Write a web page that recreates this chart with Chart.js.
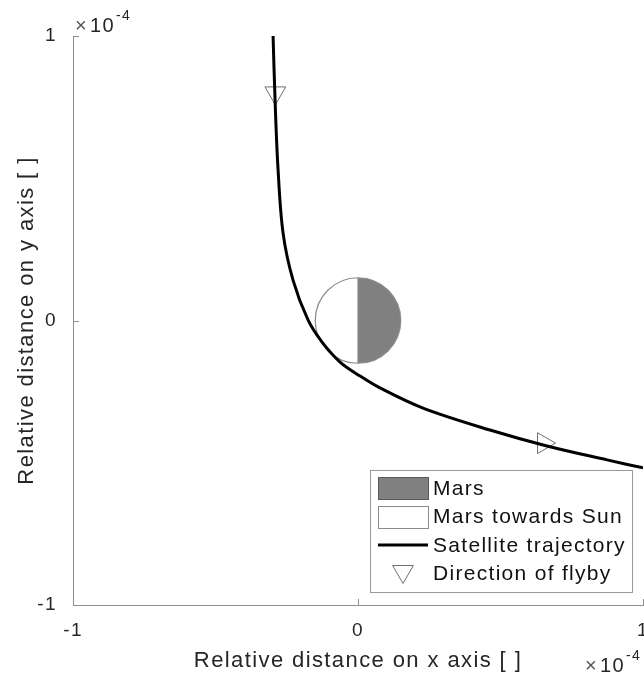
<!DOCTYPE html>
<html>
<head>
<meta charset="utf-8">
<script src="https://cdn.jsdelivr.net/npm/chart.js@4.4.1/dist/chart.umd.min.js"></script>
<style>
html,body{margin:0;padding:0;background:#fff;overflow:hidden}
#wrap{width:644px;height:679px;position:relative}
</style>
</head>
<body>
<div id="wrap"><canvas id="flyby"></canvas></div>
<script>
// hyperbolic flyby path, units of 1e-4
const trajX=[-0.298,-0.291,-0.281,-0.263,-0.228,-0.175,-0.126,-0.063,0.007,0.077,0.228,0.463,0.663,0.874,1.0];
const trajY=[1.0,0.775,0.540,0.308,0.142,0.001,-0.076,-0.146,-0.195,-0.237,-0.308,-0.385,-0.441,-0.490,-0.518];
// direction arrows along the path
const arrowX=[-0.290,0.651];
const arrowY=[0.80,-0.431];
const arrowRot=[180,90];
// planet disc
const marsCenter=[0,0];
const marsRadius=0.15;
const axisTicks=[-1,0,1];
const legendLabels=["Mars","Mars towards Sun","Satellite trajectory","Direction of flyby"];

const FONT="'Liberation Sans', Arial, Helvetica, sans-serif";
const TXT="#262626";
const AXIS="#8f8f8f";
const MARKER="#6e6e6e";
const MARS="#808080";

const drawTri=(ctx,x,y,rot)=>{
  ctx.save();
  ctx.strokeStyle=MARKER; ctx.fillStyle="rgba(0,0,0,0)"; ctx.lineWidth=1;
  Chart.helpers.drawPoint(ctx,{pointStyle:"triangle",rotation:rot,radius:12,borderWidth:1},x,y);
  ctx.restore();
};

const marsDisc={
  id:"marsDisc",
  beforeDatasetsDraw(chart){
    const {ctx,scales:{x,y}}=chart;
    const cx=x.getPixelForValue(marsCenter[0]), cy=y.getPixelForValue(marsCenter[1]);
    const r=x.getPixelForValue(marsCenter[0]+marsRadius)-cx;
    ctx.save();
    ctx.beginPath(); ctx.arc(cx,cy,r,Math.PI/2,Math.PI*1.5); ctx.closePath();
    ctx.fillStyle="#fff"; ctx.fill();
    ctx.beginPath(); ctx.arc(cx,cy,r,-Math.PI/2,Math.PI/2); ctx.closePath();
    ctx.fillStyle=MARS; ctx.fill();
    ctx.strokeStyle="#8a8a8a"; ctx.lineWidth=1.2;
    ctx.beginPath(); ctx.arc(cx,cy,r,0,Math.PI*2); ctx.stroke();
    ctx.beginPath(); ctx.moveTo(cx,cy-r); ctx.lineTo(cx,cy+r); ctx.stroke();
    ctx.restore();
  }
};

const frame={
  id:"frame",
  beforeDraw(chart){ chart.ctx.letterSpacing="1.4px"; },
  afterDraw(chart){
    const {ctx,chartArea:ca,scales:{x,y}}=chart;
    ctx.save();
    // inward tick marks
    ctx.strokeStyle=AXIS; ctx.lineWidth=1;
    ctx.beginPath();
    axisTicks.forEach(v=>{
      const px=Math.round(x.getPixelForValue(v))+0.5;
      ctx.moveTo(px,ca.bottom); ctx.lineTo(px,ca.bottom-6);
      const py=Math.round(y.getPixelForValue(v))+0.5;
      ctx.moveTo(ca.left,py); ctx.lineTo(ca.left+6,py);
    });
    ctx.stroke();

    // exponent labels
    ctx.textBaseline="alphabetic"; ctx.textAlign="left";
    const expo=(x0,base)=>{
      ctx.font="20px "+FONT; ctx.fillStyle="#555"; ctx.fillText("\u00d7",x0,base);
      ctx.fillStyle=TXT; ctx.fillText("10",x0+15,base);
      ctx.font="14px "+FONT; ctx.fillText("-4",x0+41,base-12);
    };
    expo(ca.left+2,ca.top-4);
    expo(ca.right-58,ca.bottom+67);

    // legend
    const bw=262,bh=122;
    const bx=ca.right-11-bw, by=ca.bottom-13-bh;
    ctx.fillStyle="#fff"; ctx.fillRect(bx,by,bw,bh);
    ctx.strokeStyle="#9a9a9a"; ctx.lineWidth=1;
    ctx.strokeRect(Math.round(bx)+0.5,Math.round(by)+0.5,bw,bh);
    const rows=[18,46.5,75,103.5];
    const px0=bx+8, pw=50, ph=22;
    ctx.fillStyle=MARS; ctx.fillRect(px0,by+rows[0]-ph/2,pw,ph);
    ctx.strokeStyle="#5a5a5a"; ctx.strokeRect(Math.round(px0)+0.5,Math.round(by+rows[0]-ph/2)+0.5,pw,ph);
    ctx.fillStyle="#fff"; ctx.fillRect(px0,by+rows[1]-ph/2,pw,ph);
    ctx.strokeStyle="#8a8a8a"; ctx.strokeRect(Math.round(px0)+0.5,Math.round(by+rows[1]-ph/2)+0.5,pw,ph);
    ctx.strokeStyle="#000"; ctx.lineWidth=3;
    ctx.beginPath(); ctx.moveTo(px0,by+rows[2]); ctx.lineTo(px0+pw,by+rows[2]); ctx.stroke();
    drawTri(ctx,px0+pw/2,by+rows[3]-2,180);
    ctx.font="21px "+FONT; ctx.fillStyle="#111"; ctx.textBaseline="middle";
    ctx.letterSpacing="1.3px";
    legendLabels.forEach((t,i)=>ctx.fillText(t,bx+63,by+rows[i]+1));
    ctx.restore();
    ctx.letterSpacing="0px";
  }
};

const trajectory=trajX.map((v,i)=>({x:v,y:trajY[i]}));
const arrows=arrowX.map((v,i)=>({x:v,y:arrowY[i]}));

new Chart(document.getElementById("flyby"),{
  type:"scatter",
  data:{datasets:[
    {label:"Satellite trajectory",data:trajectory,showLine:true,borderColor:"#000",borderWidth:3,
     pointRadius:0,tension:0.35,order:1},
    {label:"Direction of flyby",data:arrows,pointStyle:"triangle",pointRotation:arrowRot,pointRadius:12,
     borderColor:MARKER,borderWidth:1,backgroundColor:"rgba(0,0,0,0)",order:2}
  ]},
  options:{
    responsive:true,maintainAspectRatio:false,animation:false,
    layout:{autoPadding:false,padding:{top:36,right:1,left:0,bottom:0}},
    plugins:{legend:{display:false},tooltip:{enabled:false}},
    scales:{
      x:{type:"linear",min:-1,max:1,
        afterBuildTicks:s=>{s.ticks=axisTicks.map(v=>({value:v}));},
        ticks:{font:{size:19,family:FONT},color:TXT,padding:6,maxRotation:0,autoSkip:false},
        grid:{display:false},
        border:{display:true,color:AXIS,width:1},
        title:{display:true,text:"Relative distance on x axis [ ]",font:{size:22,family:FONT},color:TXT,padding:{top:0,bottom:5}},
        afterFit:s=>{s.height=74;s.paddingLeft=0;s.paddingRight=0;}
      },
      y:{type:"linear",min:-1,max:1,
        afterBuildTicks:s=>{s.ticks=axisTicks.map(v=>({value:v}));},
        ticks:{font:{size:19,family:FONT},color:TXT,padding:8,autoSkip:false},
        grid:{display:false},
        border:{display:true,color:AXIS,width:1},
        title:{display:true,text:"Relative distance on y axis [ ]",font:{size:22,family:FONT},color:TXT,padding:{top:14,bottom:0}},
        afterFit:s=>{s.width=73;s.paddingTop=0;s.paddingBottom=0;}
      }
    }
  },
  plugins:[marsDisc,frame]
});
</script>
</body>
</html>
